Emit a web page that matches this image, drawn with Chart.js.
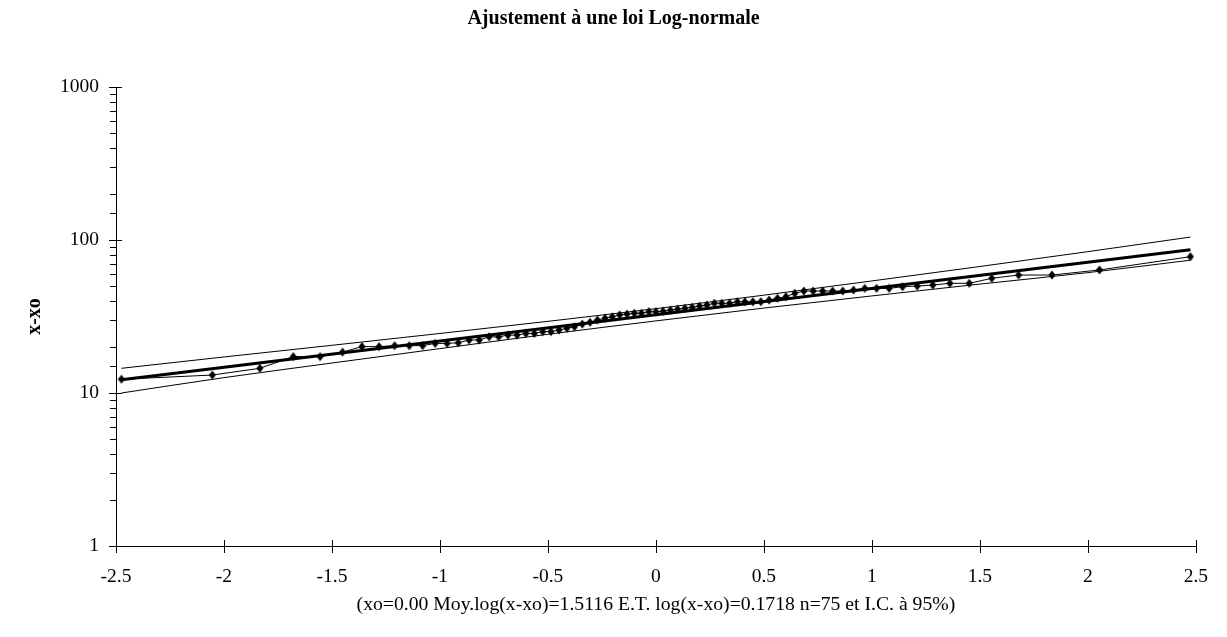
<!DOCTYPE html>
<html>
<head>
<meta charset="utf-8">
<title>Ajustement à une loi Log-normale</title>
<script src="https://cdn.jsdelivr.net/npm/chart.js@4"></script>
<style>
  html, body { margin: 0; padding: 0; background: #fff; }
  #wrap { width: 1227px; height: 637px; }
</style>
</head>
<body>
<div id="wrap"><canvas id="chart" width="1227" height="637"></canvas></div>
<script>
const zValues = [
  -2.475, -2.054, -1.834, -1.679, -1.555, -1.451, -1.361, -1.282, -1.210, -1.142,
  -1.080, -1.022, -0.967, -0.915, -0.865, -0.818, -0.772, -0.728, -0.685, -0.643,
  -0.602, -0.563, -0.524, -0.486, -0.449, -0.412, -0.377, -0.341, -0.305, -0.271,
  -0.236, -0.202, -0.168, -0.134, -0.100, -0.067, -0.033, 0.000, 0.033, 0.067,
  0.100, 0.134, 0.168, 0.202, 0.236, 0.271, 0.305, 0.341, 0.377, 0.412,
  0.449, 0.486, 0.524, 0.563, 0.602, 0.643, 0.685, 0.728, 0.772, 0.818,
  0.865, 0.915, 0.967, 1.022, 1.080, 1.142, 1.210, 1.282, 1.361, 1.451,
  1.555, 1.679, 1.834, 2.054, 2.475
];
const observed = [
  12.3, 13.1, 14.5, 17.3, 17.3, 18.5, 20.1, 20.1, 20.4, 20.4,
  20.4, 21.1, 21.1, 21.3, 22.2, 22.2, 23.3, 23.3, 23.9, 23.9,
  24.5, 24.5, 25.2, 25.2, 25.8, 26.5, 27.1, 28.2, 29.0, 30.0,
  30.8, 31.5, 32.4, 32.8, 33.2, 33.2, 34.0, 34.0, 34.2, 34.8,
  35.3, 35.8, 36.3, 37.0, 37.6, 38.6, 38.6, 38.6, 39.5, 39.5,
  39.5, 39.5, 40.5, 41.6, 42.6, 44.8, 46.4, 46.4, 46.4, 46.4,
  46.4, 47.1, 48.3, 48.3, 48.3, 49.5, 50.0, 50.8, 52.1, 52.1,
  56.2, 59.0, 59.0, 63.7, 77.8
];

// droite d'ajustement
const fitZ = [-2.475, 2.475];
const fitValues = [12.2, 86.5];

// intervalle de confiance à 95%
const ciZ = [-2.475, -2, -1.5, -1, -0.5, 0, 0.5, 1, 1.5, 2, 2.475];
const ciUpper = [14.5, 17.2, 20.5, 24.5, 29.4, 35.6, 43.6, 54.0, 67.1, 83.9, 104.5];
const ciLower = [10.0, 12.6, 15.7, 19.5, 24.2, 29.6, 35.9, 43.1, 51.5, 61.2, 73.8];

const xTicksMin = -2.5, xTicksMax = 2.5, xStep = 0.5;
const yMin = 1, yMax = 1000;

const pts = (xs, ys) => xs.map((x, i) => ({ x: x, y: ys[i] }));

Chart.defaults.font.family = "'Liberation Serif', 'Times New Roman', serif";
Chart.defaults.color = '#000';

// losange un peu plus haut que large, comme dans Excel
const diamond = document.createElement('canvas');
diamond.width = 8;
diamond.height = 10;
(function () {
  const c = diamond.getContext('2d');
  c.fillStyle = '#000';
  c.beginPath();
  c.moveTo(4, 0.5);
  c.lineTo(7.5, 5);
  c.lineTo(4, 9.5);
  c.lineTo(0.5, 5);
  c.closePath();
  c.fill();
})();

// petites graduations : majeures croisant l'axe, mineures à l'extérieur
const tickMarks = {
  id: 'tickMarks',
  afterDraw(chart) {
    const { ctx, scales: { x, y } } = chart;
    ctx.save();
    ctx.strokeStyle = '#000';
    ctx.lineWidth = 1;
    ctx.beginPath();
    y.ticks.forEach(t => {
      const lg = Math.log10(t.value);
      const major = Math.abs(lg - Math.round(lg)) < 1e-9;
      const py = Math.round(y.getPixelForValue(t.value)) + 0.5;
      ctx.moveTo(y.right - (major ? 7 : 6), py);
      ctx.lineTo(y.right + (major ? 6 : 0), py);
    });
    x.ticks.forEach(t => {
      const px = Math.round(x.getPixelForValue(t.value)) + 0.5;
      ctx.moveTo(px, x.top - 6);
      ctx.lineTo(px, x.top + 7);
    });
    ctx.stroke();
    ctx.restore();
  }
};

new Chart(document.getElementById('chart'), {
  type: 'scatter',
  data: {
    datasets: [
      {
        label: 'Observations',
        data: pts(zValues, observed),
        showLine: true,
        borderColor: '#000',
        borderWidth: 1,
        backgroundColor: '#000',
        pointStyle: diamond,
        pointRadius: 4,
        order: 0
      },
      {
        label: 'Ajustement',
        data: pts(fitZ, fitValues),
        showLine: true,
        borderColor: '#000',
        borderWidth: 3,
        pointRadius: 0,
        order: 1
      },
      {
        label: 'IC sup',
        data: pts(ciZ, ciUpper),
        showLine: true,
        borderColor: '#000',
        borderWidth: 1,
        pointRadius: 0,
        cubicInterpolationMode: 'monotone',
        order: 2
      },
      {
        label: 'IC inf',
        data: pts(ciZ, ciLower),
        showLine: true,
        borderColor: '#000',
        borderWidth: 1,
        pointRadius: 0,
        cubicInterpolationMode: 'monotone',
        order: 2
      }
    ]
  },
  options: {
    responsive: false,
    animation: false,
    layout: { padding: 0 },
    plugins: {
      legend: { display: false },
      tooltip: { enabled: false },
      title: {
        display: true,
        text: 'Ajustement à une loi Log-normale',
        font: { size: 20, weight: 'bold' },
        color: '#000',
        padding: { top: 7, bottom: 56 }
      }
    },
    scales: {
      x: {
        type: 'linear',
        min: xTicksMin,
        max: xTicksMax,
        grid: { display: false, drawTicks: false },
        border: { display: true, color: '#000', width: 1 },
        ticks: {
          stepSize: xStep,
          padding: 19,
          font: { size: 19.5 },
          color: '#000',
          callback: v => String(v)
        },
        title: {
          display: true,
          text: '(xo=0.00 Moy.log(x-xo)=1.5116 E.T. log(x-xo)=0.1718 n=75 et I.C. à 95%)',
          font: { size: 19.7 },
          color: '#000',
          padding: { top: 0, bottom: 20.7 }
        },
        afterFit: s => { s.height = 91; }
      },
      y: {
        type: 'logarithmic',
        min: yMin,
        max: yMax,
        grid: { display: false, drawTicks: false },
        border: { display: true, color: '#000', width: 1 },
        ticks: {
          autoSkip: false,
          padding: 17,
          font: { size: 19.5 },
          color: '#000',
          callback: v => {
            const lg = Math.log10(v);
            return Math.abs(lg - Math.round(lg)) < 1e-9 ? String(v) : '';
          }
        },
        title: {
          display: true,
          text: 'x-xo',
          font: { size: 20, weight: 'bold' },
          color: '#000',
          padding: { top: 23, bottom: 0 }
        },
        afterFit: s => { s.width = 116; }
      },
      yRight: {
        type: 'linear',
        position: 'right',
        display: true,
        grid: { display: false, drawTicks: false },
        border: { display: false },
        ticks: { display: false },
        afterFit: s => { s.width = 30; }
      }
    }
  },
  plugins: [tickMarks]
});
</script>
</body>
</html>
